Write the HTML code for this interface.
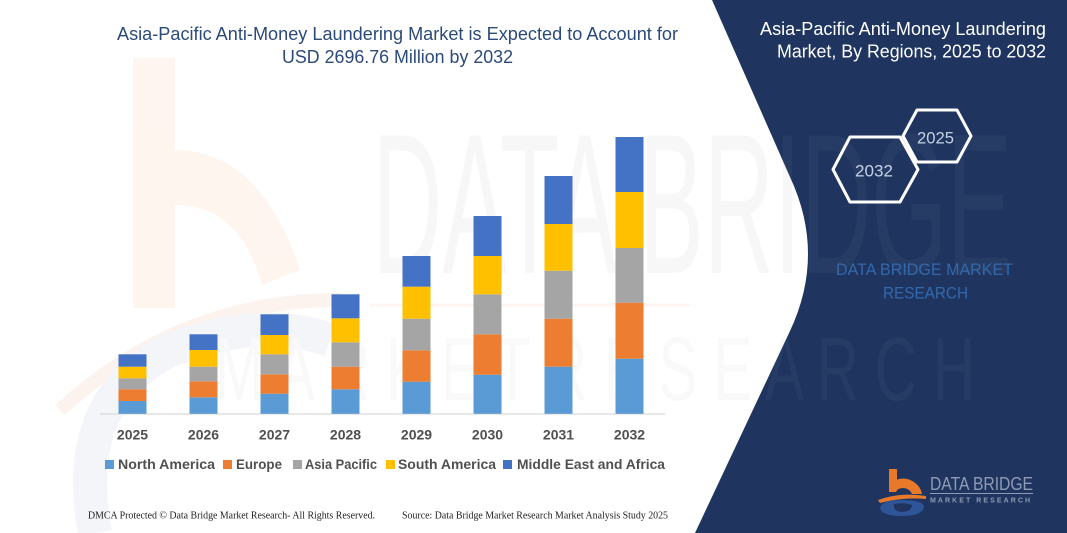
<!DOCTYPE html>
<html>
<head>
<meta charset="utf-8">
<style>
  html,body{margin:0;padding:0;background:#fff;}
  svg{display:block;}
  text{font-family:"Liberation Sans",sans-serif;}
</style>
</head>
<body>
<svg width="1067" height="533" viewBox="0 0 1067 533" xmlns="http://www.w3.org/2000/svg">
  <defs>
    <clipPath id="navyclip">
      <path d="M712,0 L790,177 Q826,254 790,331 L695,533 L1067,533 L1067,0 Z"/>
    </clipPath>
  </defs>
  <rect x="0" y="0" width="1067" height="533" fill="#ffffff"/>

  <!-- faint watermark: orange b -->
  <g opacity="0.8">
    <rect x="133" y="58" width="42" height="250" fill="#FEF3EC"/>
    <path d="M175,150 Q260,150 300,270 L262,285 Q240,205 175,205 Z" fill="#FEF3EC"/>
    <path d="M60,410 Q180,300 340,300" stroke="#FDF1EA" stroke-width="14" fill="none"/>
    <path d="M95,533 Q70,400 170,350 Q260,315 330,340" stroke="#F1F3F7" stroke-width="34" fill="none"/>
  </g>
  <!-- faint watermark letters -->
  <text x="372" y="273" font-size="200" fill="#F7F7F7" textLength="640" lengthAdjust="spacingAndGlyphs">DATA BRIDGE</text>
  <line x1="370" y1="305" x2="690" y2="305" stroke="#FDF4EF" stroke-width="3"/>
  <text x="215" y="400" font-size="90" fill="#F9F9F9" textLength="760" lengthAdjust="spacingAndGlyphs">M A R K E T   R E S E A R C H</text>

  <!-- title -->
  <text x="117" y="40" font-size="18" fill="#2B4A7A" textLength="561" lengthAdjust="spacingAndGlyphs">Asia-Pacific Anti-Money Laundering Market is Expected to Account for</text>
  <text x="282" y="63" font-size="18" fill="#2B4A7A" textLength="231" lengthAdjust="spacingAndGlyphs">USD 2696.76 Million by 2032</text>

  <!-- axis -->
  <line x1="100" y1="414" x2="665" y2="414" stroke="#D9D9D9" stroke-width="1.2"/>

  <!-- bars -->
  <g>
    <rect x="118.5" y="401" width="28" height="12.8" fill="#5B9BD5"/>
    <rect x="118.5" y="389.3" width="28" height="11.7" fill="#ED7D31"/>
    <rect x="118.5" y="378.3" width="28" height="11" fill="#A5A5A5"/>
    <rect x="118.5" y="366.7" width="28" height="11.6" fill="#FFC000"/>
    <rect x="118.5" y="354.3" width="28" height="12.4" fill="#4472C4"/>

    <rect x="189.5" y="397.3" width="28" height="16.5" fill="#5B9BD5"/>
    <rect x="189.5" y="381.3" width="28" height="16" fill="#ED7D31"/>
    <rect x="189.5" y="366.7" width="28" height="14.6" fill="#A5A5A5"/>
    <rect x="189.5" y="350" width="28" height="16.7" fill="#FFC000"/>
    <rect x="189.5" y="334.3" width="28" height="15.7" fill="#4472C4"/>

    <rect x="260.5" y="393.7" width="28" height="20.1" fill="#5B9BD5"/>
    <rect x="260.5" y="374.3" width="28" height="19.4" fill="#ED7D31"/>
    <rect x="260.5" y="354.3" width="28" height="20" fill="#A5A5A5"/>
    <rect x="260.5" y="335" width="28" height="19.3" fill="#FFC000"/>
    <rect x="260.5" y="314.3" width="28" height="20.7" fill="#4472C4"/>

    <rect x="331.5" y="389.3" width="28" height="24.5" fill="#5B9BD5"/>
    <rect x="331.5" y="366.7" width="28" height="22.6" fill="#ED7D31"/>
    <rect x="331.5" y="342.3" width="28" height="24.4" fill="#A5A5A5"/>
    <rect x="331.5" y="318.3" width="28" height="24" fill="#FFC000"/>
    <rect x="331.5" y="294.3" width="28" height="24" fill="#4472C4"/>

    <rect x="402.5" y="381.7" width="28" height="32.1" fill="#5B9BD5"/>
    <rect x="402.5" y="350.3" width="28" height="31.4" fill="#ED7D31"/>
    <rect x="402.5" y="318.7" width="28" height="31.6" fill="#A5A5A5"/>
    <rect x="402.5" y="286.7" width="28" height="32" fill="#FFC000"/>
    <rect x="402.5" y="256" width="28" height="30.7" fill="#4472C4"/>

    <rect x="473.5" y="374.7" width="28" height="39.1" fill="#5B9BD5"/>
    <rect x="473.5" y="334.3" width="28" height="40.4" fill="#ED7D31"/>
    <rect x="473.5" y="294.3" width="28" height="40" fill="#A5A5A5"/>
    <rect x="473.5" y="256" width="28" height="38.3" fill="#FFC000"/>
    <rect x="473.5" y="216" width="28" height="40" fill="#4472C4"/>

    <rect x="544.5" y="366.7" width="28" height="47.1" fill="#5B9BD5"/>
    <rect x="544.5" y="318.7" width="28" height="48" fill="#ED7D31"/>
    <rect x="544.5" y="270.7" width="28" height="48" fill="#A5A5A5"/>
    <rect x="544.5" y="224" width="28" height="46.7" fill="#FFC000"/>
    <rect x="544.5" y="176" width="28" height="48" fill="#4472C4"/>

    <rect x="615.5" y="358.7" width="28" height="55.1" fill="#5B9BD5"/>
    <rect x="615.5" y="302.7" width="28" height="56" fill="#ED7D31"/>
    <rect x="615.5" y="248" width="28" height="54.7" fill="#A5A5A5"/>
    <rect x="615.5" y="192" width="28" height="56" fill="#FFC000"/>
    <rect x="615.5" y="137" width="28" height="55" fill="#4472C4"/>
  </g>

  <!-- year labels -->
  <g font-size="14" font-weight="bold" fill="#505050" text-anchor="middle">
    <text x="132.5" y="439.5">2025</text>
    <text x="203.5" y="439.5">2026</text>
    <text x="274.5" y="439.5">2027</text>
    <text x="345.5" y="439.5">2028</text>
    <text x="416.5" y="439.5">2029</text>
    <text x="487.5" y="439.5">2030</text>
    <text x="558.5" y="439.5">2031</text>
    <text x="629.5" y="439.5">2032</text>
  </g>

  <!-- legend -->
  <g font-size="14" font-weight="bold" fill="#505050">
    <rect x="105" y="460" width="9" height="9" fill="#5B9BD5"/>
    <text x="118" y="469" textLength="97" lengthAdjust="spacingAndGlyphs">North America</text>
    <rect x="223" y="460" width="9" height="9" fill="#ED7D31"/>
    <text x="236" y="469" textLength="46" lengthAdjust="spacingAndGlyphs">Europe</text>
    <rect x="293" y="460" width="9" height="9" fill="#A5A5A5"/>
    <text x="305" y="469" textLength="72" lengthAdjust="spacingAndGlyphs">Asia Pacific</text>
    <rect x="386" y="460" width="9" height="9" fill="#FFC000"/>
    <text x="398" y="469" textLength="98" lengthAdjust="spacingAndGlyphs">South America</text>
    <rect x="503" y="460" width="9" height="9" fill="#4472C4"/>
    <text x="517" y="469" textLength="148" lengthAdjust="spacingAndGlyphs">Middle East and Africa</text>
  </g>

  <!-- footer -->
  <g font-size="10" fill="#222">
    <text x="88" y="518.5" textLength="287" lengthAdjust="spacingAndGlyphs" style="font-family:'Liberation Serif',serif">DMCA Protected © Data Bridge Market Research-  All Rights Reserved.</text>
    <text x="402" y="518.5" textLength="266" lengthAdjust="spacingAndGlyphs" style="font-family:'Liberation Serif',serif">Source: Data Bridge Market Research  Market Analysis Study 2025</text>
  </g>

  <!-- navy panel -->
  <path d="M712,0 L790,177 Q826,254 790,331 L695,533 L1067,533 L1067,0 Z" fill="#1F355F"/>
  <g clip-path="url(#navyclip)" opacity="0.035">
    <text x="372" y="273" font-size="200" fill="#ffffff" textLength="640" lengthAdjust="spacingAndGlyphs">DATA BRIDGE</text>
    <text x="215" y="400" font-size="90" fill="#ffffff" textLength="760" lengthAdjust="spacingAndGlyphs">M A R K E T   R E S E A R C H</text>
  </g>

  <!-- right title -->
  <text x="760" y="35" font-size="18" fill="#ffffff" textLength="286" lengthAdjust="spacingAndGlyphs">Asia-Pacific Anti-Money Laundering</text>
  <text x="777" y="57.5" font-size="18" fill="#ffffff" textLength="269" lengthAdjust="spacingAndGlyphs">Market, By Regions, 2025 to 2032</text>

  <!-- hexagons -->
  <polygon points="903,136 917,110 957,110 971,136 957,162 917,162" fill="none" stroke="#ffffff" stroke-width="3" stroke-linejoin="round"/>
  <polygon points="833,169.5 850,137 900,137 918,169.5 900,202 850,202" fill="none" stroke="#ffffff" stroke-width="3" stroke-linejoin="round"/>
  <text x="917" y="143.5" font-size="17" fill="#C5D2E6" textLength="37" lengthAdjust="spacingAndGlyphs">2025</text>
  <text x="855" y="176.5" font-size="17" fill="#C5D2E6" textLength="38" lengthAdjust="spacingAndGlyphs">2032</text>

  <!-- DBMR text -->
  <text x="836" y="275" font-size="17" fill="#3368AC" textLength="177" lengthAdjust="spacingAndGlyphs">DATA BRIDGE MARKET</text>
  <text x="883" y="298.5" font-size="17" fill="#3368AC" textLength="85" lengthAdjust="spacingAndGlyphs">RESEARCH</text>

  <!-- logo -->
  <g>
    <rect x="889" y="469" width="8" height="22" fill="#E8792B"/>
    <path d="M889,492 L889,484 Q902,474 914,482 Q921,487 922,494 L912,494 Q910,489 904,488 Q897,488 896,492 Z" fill="#E8792B"/>
    <path d="M878,500 Q900,492 926,496 L926,499 Q902,497 880,503 Z" fill="#E8792B"/>
    <path d="M880,508 Q882,500 900,500 Q924,500 924,507 Q922,516 902,516 Q882,516 880,508 Z" fill="#2E5597"/>
    <path d="M894,504 Q904,502 912,505 Q912,511 903,512 Q896,512 894,508 Z" fill="#1F355F"/>
    <text x="930" y="490" font-size="18" fill="#8E9BB5" textLength="103" lengthAdjust="spacingAndGlyphs">DATA BRIDGE</text>
    <line x1="930" y1="493.5" x2="1033" y2="493.5" stroke="#8E9BB5" stroke-width="1"/>
    <text x="930" y="502.5" font-size="7" font-weight="bold" fill="#8E9BB5" textLength="100" lengthAdjust="spacing">MARKET RESEARCH</text>
  </g>
</svg>
</body>
</html>
